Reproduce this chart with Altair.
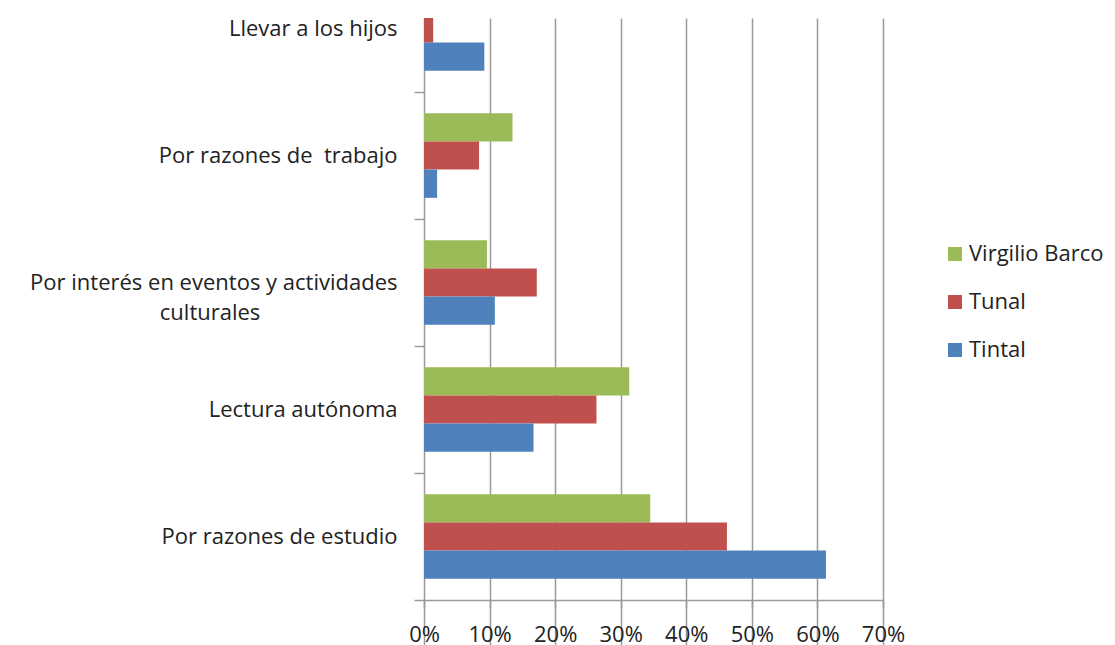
import altair as alt
import pandas as pd

categories = [
    "Llevar a los hijos",
    "Por razones de  trabajo",
    "Por interés en eventos y actividades culturales",
    "Lectura autónoma",
    "Por razones de estudio",
]
series = ["Virgilio Barco", "Tunal", "Tintal"]
colors = ["#9BBB59", "#C0504D", "#4F81BD"]

virgilio = [0.0, 13.5, 9.6, 31.3, 34.5]
tunal = [1.4, 8.4, 17.2, 26.3, 46.2]
tintal = [9.2, 2.0, 10.8, 16.7, 61.3]
x_ticks = [0, 10, 20, 30, 40, 50, 60, 70]

rows = []
for s, vals in zip(series, [virgilio, tunal, tintal]):
    for c, v in zip(categories, vals):
        rows.append({"cat": c, "serie": s, "valor": v / 100.0})
df = pd.DataFrame(rows)

FONT = "Open Sans"
FS = 22
NB = "\u00a0"
ZW = "\u200b"
label_expr = (
    "datum.label == 'Por interés en eventos y actividades culturales' ? "
    "['Por interés en eventos y actividades', 'culturales" + NB * 24 + ZW + "'] : "
    "replace(datum.label, '  ', ' " + NB + "')"
)

chart = (
    alt.Chart(df)
    .mark_bar(clip=True)
    .encode(
        x=alt.X(
            "valor:Q",
            scale=alt.Scale(domain=[0, 0.7], nice=False, zero=True),
            axis=alt.Axis(
                format="%",
                values=[t / 100 for t in x_ticks],
                title=None,
                grid=True,
                gridColor="#9A9A9A",
                gridWidth=1.5,
                domainColor="#9A9A9A",
                domainWidth=1.5,
                tickColor="#9A9A9A",
                tickWidth=1.5,
                tickSize=8,
                labelBaseline="alphabetic",
                labelPadding=33,
                labelFlush=False,
                labelFont=FONT,
                labelFontSize=FS,
                labelColor="#222222",
            ),
        ),
        y=alt.Y(
            "cat:N",
            sort=categories,
            scale=alt.Scale(range=[-53, 582], paddingInner=0, paddingOuter=0),
            axis=alt.Axis(
                title=None,
                domain=False,
                grid=False,
                tickBand="extent",
                tickColor="#9A9A9A",
                tickWidth=1.5,
                tickSize=10,
                labelPadding=17,
                labelFont=FONT,
                labelFontSize=FS,
                labelColor="#222222",
                labelLimit=500,
                labelExpr=label_expr,
                labelLineHeight=30,
            ),
        ),
        yOffset=alt.YOffset(
            "serie:N",
            sort=series,
            scale=alt.Scale(paddingInner=0, paddingOuter=0.75),
        ),
        color=alt.Color(
            "serie:N",
            sort=series,
            scale=alt.Scale(domain=series, range=colors),
            legend=alt.Legend(
                title=None,
                orient="none",
                legendX=520,
                legendY=225,
                symbolType="square",
                symbolSize=196,
                symbolStrokeWidth=0,
                labelFont=FONT,
                labelFontSize=FS,
                labelColor="#222222",
                labelOffset=3,
                rowPadding=26,
            ),
        ),
    )
    .properties(
        width=459,
        height=582,
        autosize=alt.AutoSizeParams(type="none"),
        padding={"left": 416, "top": 10, "right": 224, "bottom": 45},
    )
    .configure_view(stroke=None)
)

chart.save("out.html", embed_options={"renderer": "svg", "actions": False})
